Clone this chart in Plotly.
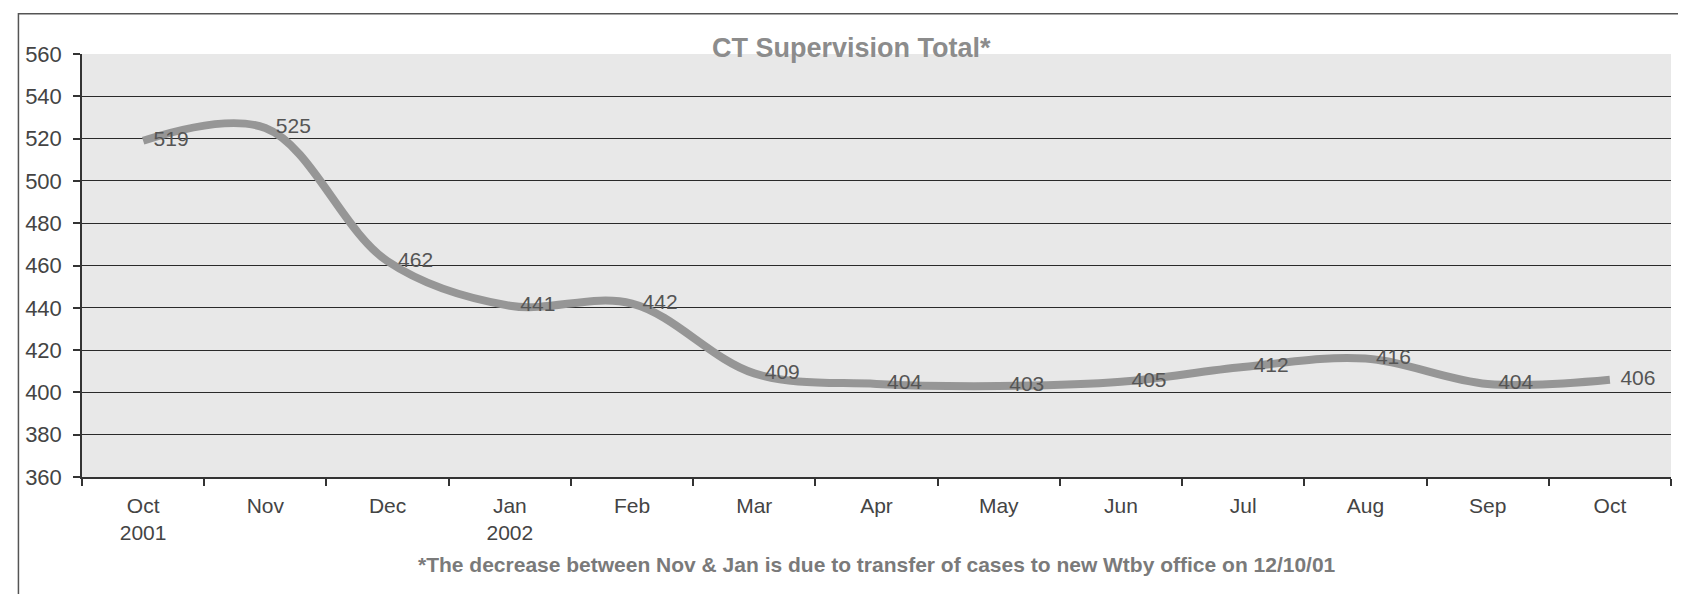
import plotly.graph_objects as go

months = ["Oct<br>2001", "Nov", "Dec", "Jan<br>2002", "Feb", "Mar", "Apr",
          "May", "Jun", "Jul", "Aug", "Sep", "Oct"]
totals = [519, 525, 462, 441, 442, 409, 404, 403, 405, 412, 416, 404, 406]
y_ticks = list(range(360, 561, 20))

title_text = "CT Supervision Total*"
footnote = "*The decrease between Nov & Jan is due to transfer of cases to new Wtby office on 12/10/01"

FONT = "Liberation Sans, Arial, sans-serif"

fig = go.Figure()
fig.add_trace(go.Scatter(
    x=months, y=totals,
    mode="lines+text",
    line=dict(color="#969696", width=8, shape="spline", smoothing=1.0),
    text=[str(v) for v in totals],
    texttemplate="\u2002%{text}",
    textposition="middle right",
    textfont=dict(family=FONT, size=21, color="#555555"),
    cliponaxis=False,
    hoverinfo="x+y",
    showlegend=False,
))

fig.update_layout(
    width=1686, height=594,
    margin=dict(l=74, r=23, t=46, b=125),
    paper_bgcolor="white",
    plot_bgcolor="#e8e8e8",
    font=dict(family=FONT, size=21, color="#444444"),
    showlegend=False,
)

fig.update_xaxes(
    type="category",
    categoryorder="array", categoryarray=months,
    tickson="boundaries",
    ticks="outside", ticklen=7, tickcolor="#333333", tickwidth=1.5,
    showline=True, linecolor="#333333", linewidth=1.5,
    showgrid=False,
    tickfont=dict(family=FONT, size=21, color="#444444"),
    ticklabelstandoff=9,
    range=[-0.5, 12.5],
)

fig.update_yaxes(
    range=[360, 560],
    tickvals=y_ticks,
    ticks="outside", ticklen=7, tickcolor="#333333", tickwidth=1.5,
    showline=True, linecolor="#333333", linewidth=1.5,
    showgrid=True, gridcolor="#2a2a2a", gridwidth=1.3,
    zeroline=False,
    tickfont=dict(family=FONT, size=22, color="#444444"),
    ticklabelstandoff=7,
)

fig.add_annotation(
    text="<b>" + title_text + "</b>",
    xref="paper", yref="paper", x=0.484, y=1.0,
    xanchor="center", yanchor="middle", yshift=6,
    showarrow=False,
    font=dict(family=FONT, size=27, color="#8c8c8c"),
)

fig.add_annotation(
    text="<b>" + footnote + "</b>",
    xref="paper", yref="paper", x=0.5, y=-0.207,
    xanchor="center", yanchor="middle",
    showarrow=False,
    font=dict(family=FONT, size=21, color="#7a7a7a"),
)

fig.add_shape(
    type="rect", xref="paper", yref="paper",
    x0=-0.04, x1=1.01, y0=-0.29, y1=1.095,
    line=dict(color="#555555", width=1.5),
    fillcolor="rgba(0,0,0,0)", layer="below",
)

fig.write_html("out.html")
